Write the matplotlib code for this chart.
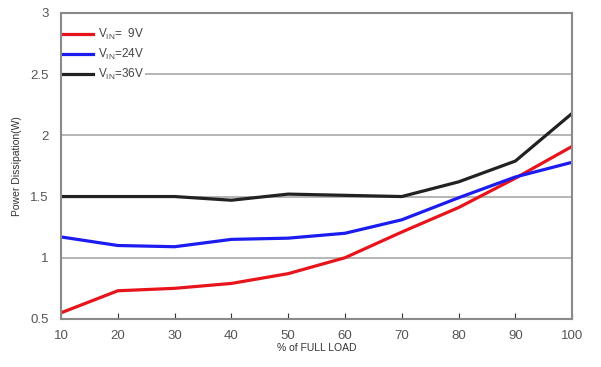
import matplotlib.pyplot as plt

plt.rcParams["font.family"] = ["Liberation Sans", "DejaVu Sans"]
plt.rcParams["mathtext.default"] = "regular"

load_pct = [10, 20, 30, 40, 50, 60, 70, 80, 90, 100]

vin_9v = [0.55, 0.73, 0.75, 0.79, 0.87, 1.00, 1.21, 1.41, 1.65, 1.91]
vin_24v = [1.17, 1.10, 1.09, 1.15, 1.16, 1.20, 1.31, 1.49, 1.66, 1.78]
vin_36v = [1.50, 1.50, 1.50, 1.47, 1.52, 1.51, 1.50, 1.62, 1.79, 2.18]

series = [
    (r"V$_{IN}$=  9V", vin_9v, "#e8141c"),
    (r"V$_{IN}$=24V", vin_24v, "#1c1cf0"),
    (r"V$_{IN}$=36V", vin_36v, "#222222"),
]

y_ticks = [0.5, 1, 1.5, 2, 2.5, 3]
y_tick_labels = ["0.5", "1", "1.5", "2", "2.5", "3"]

GRAY = "#8a8a8a"
GRID = "#a0a0a0"
TEXT = "#555555"


def main():
    fig = plt.figure(figsize=(6.01, 3.67), dpi=100)
    ax = fig.add_axes([0.1015, 0.131, 0.8505, 0.8336])

    for label, values, color in series:
        ax.plot(load_pct, values, color=color, linewidth=2.3, label=label)

    ax.set_xlim(10, 100)
    ax.set_ylim(0.5, 3)
    ax.set_xticks(load_pct)
    ax.set_yticks(y_ticks)
    ax.set_yticklabels(y_tick_labels)

    ax.yaxis.grid(True, color=GRID, linewidth=1.1)
    ax.set_axisbelow(True)

    for spine in ax.spines.values():
        spine.set_color(GRAY)
        spine.set_linewidth(1.5)
        spine.set_zorder(3)

    ax.tick_params(axis="x", direction="in", length=4, color="#333333",
                   labelsize=9.5, labelcolor=TEXT, pad=8)
    ax.tick_params(axis="y", length=0, labelsize=9.5, labelcolor=TEXT, pad=9)

    ax.set_xlabel("% of FULL LOAD", fontsize=7.5, color="#333333", labelpad=1)
    ax.set_ylabel("Power Dissipation(W)", fontsize=7.5, color="#333333",
                  labelpad=6)

    legend = ax.legend(
        loc="upper left",
        bbox_to_anchor=(0.0, 0.958),
        frameon=True,
        fontsize=8.5,
        handlelength=2.6,
        handletextpad=0.4,
        labelspacing=0.42,
        borderaxespad=0.0,
        borderpad=0.1,
    )
    legend.set_zorder(2.2)
    legend.get_frame().set_edgecolor("none")
    legend.get_frame().set_facecolor("white")
    legend.get_frame().set_alpha(1.0)
    for text in legend.get_texts():
        text.set_color("#444444")

    fig.savefig("out.png", dpi=100)


if __name__ == "__main__":
    main()
